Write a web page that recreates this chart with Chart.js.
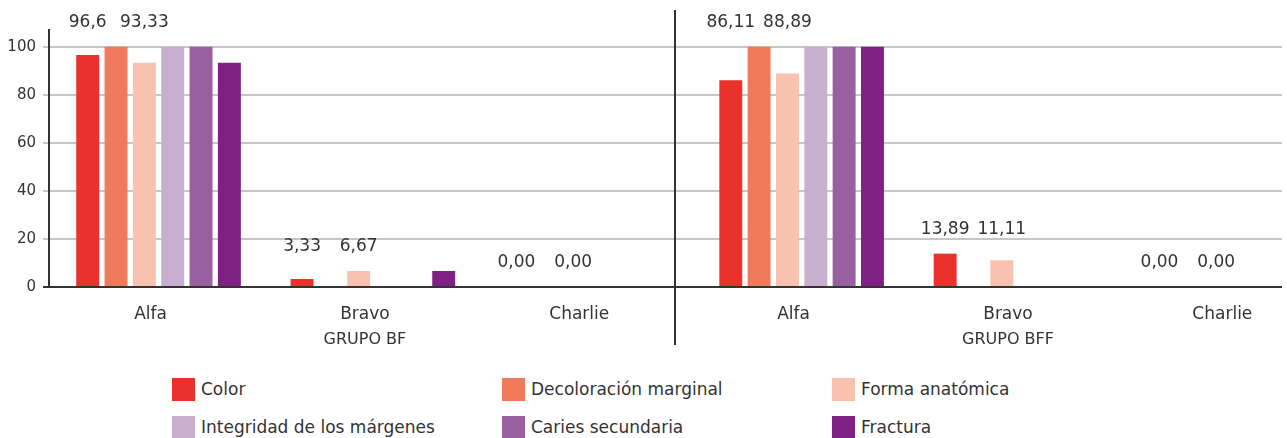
<!DOCTYPE html>
<html lang="es">
<head>
    <meta charset="UTF-8">
    <title>Grupo BF / Grupo BFF</title>
    <style>
        body {
            margin: 0;
            padding: 0;
            background: #ffffff;
            font-family: 'DejaVu Sans', sans-serif;
        }

        .wrap {
            position: relative;
            width: 1287px;
            height: 438px;
            overflow: hidden;
        }

        #chart-box {
            position: absolute;
            left: 0;
            top: 0;
            width: 1287px;
            height: 360px;
        }

        /* legend: 3 columns x 2 rows */
        #legend {
            position: absolute;
            left: 172px;
            top: 378px;
            display: grid;
            grid-template-columns: 330px 330px 330px;
            grid-auto-rows: 38px;
        }

        .item {
            display: flex;
            align-items: flex-start;
            font-size: 17px;
            color: #333;
        }

        .item span.box {
            width: 23px;
            height: 23px;
            margin-right: 6px;
            flex: none;
        }

        .item span.txt {
            line-height: 23px;
        }
    </style>
    <script src="https://cdn.jsdelivr.net/npm/chart.js"></script>
</head>
<body>
    <div class="wrap">
        <div id="chart-box"><canvas id="chart"></canvas></div>
        <div id="legend"></div>
    </div>

    <script>
        // categories, left panel (GRUPO BF) then right panel (GRUPO BFF)
        const categories = ['Alfa', 'Bravo', 'Charlie', 'Alfa', 'Bravo', 'Charlie'];
        const groups = ['GRUPO BF', 'GRUPO BFF'];
        const yTicks = [0, 20, 40, 60, 80, 100];

        const seriesNames = ['Color', 'Decoloración marginal', 'Forma anatómica',
            'Integridad de los márgenes', 'Caries secundaria', 'Fractura'];
        const seriesColors = ['#E9322C', '#EF7A5C', '#F8C2AE', '#C8AFCF', '#98609F', '#7E2182'];

        const color      = [96.6, 3.33, 0, 86.11, 13.89, 0];
        const decoloracion = [100, 0, 0, 100, 0, 0];
        const forma      = [93.33, 6.67, 0, 88.89, 11.11, 0];
        const integridad = [100, 0, 0, 100, 0, 0];
        const caries     = [100, 0, 0, 100, 0, 0];
        const fractura   = [93.33, 6.67, 0, 100, 0, 0];

        // value labels printed in the picture (only Color and Forma anatómica)
        const colorLabels = ['96,6', '3,33', '0,00', '86,11', '13,89', '0,00'];
        const formaLabels = ['93,33', '6,67', '0,00', '88,89', '11,11', '0,00'];

        const seriesValues = [color, decoloracion, forma, integridad, caries, fractura];
        const seriesLabels = [colorLabels, null, formaLabels, null, null, null];

        const textColor = '#333';
        const font = "'DejaVu Sans', sans-serif";

        // value labels above the Color and Forma bars
        const valueLabels = {
            id: 'valueLabels',
            afterDatasetsDraw(chart) {
                const ctx = chart.ctx;
                const y = chart.scales.y;
                ctx.save();
                ctx.font = '17px ' + font;
                ctx.fillStyle = textColor;
                ctx.textAlign = 'center';
                ctx.textBaseline = 'middle';
                seriesLabels.forEach((labels, d) => {
                    if (!labels) return;
                    const meta = chart.getDatasetMeta(d);
                    meta.data.forEach((bar, i) => {
                        const top = Math.max(...seriesValues.map(s => s[i]));
                        ctx.fillText(labels[i], bar.x, y.getPixelForValue(top) - 24);
                    });
                });
                ctx.restore();
            }
        };

        // panel divider and group titles
        const panels = {
            id: 'panels',
            afterDraw(chart) {
                const ctx = chart.ctx;
                const x = chart.scales.x;
                ctx.save();
                ctx.strokeStyle = textColor;
                ctx.lineWidth = 2;
                const dx = Math.round(x.getPixelForValue(2.41));
                ctx.beginPath();
                ctx.moveTo(dx, 10);
                ctx.lineTo(dx, 345);
                ctx.stroke();

                ctx.font = '16px ' + font;
                ctx.fillStyle = textColor;
                ctx.textAlign = 'center';
                ctx.textBaseline = 'middle';
                ctx.fillText(groups[0], x.getPixelForValue(1) - 8, 340);
                ctx.fillText(groups[1], x.getPixelForValue(4) - 8, 340);
                ctx.restore();
            }
        };

        new Chart(document.getElementById('chart'), {
            type: 'bar',
            data: {
                datasets: seriesNames.map((name, d) => ({
                    label: name,
                    data: seriesValues[d].map((v, i) => ({ x: i, y: v })),
                    backgroundColor: seriesColors[d],
                    borderWidth: 0,
                    categoryPercentage: 0.793,
                    barPercentage: 0.81
                }))
            },
            options: {
                responsive: true,
                maintainAspectRatio: false,
                animation: false,
                layout: { padding: { top: 30, right: 5, left: 0, bottom: 0 } },
                plugins: {
                    legend: { display: false },
                    tooltip: { enabled: false }
                },
                scales: {
                    x: {
                        type: 'linear',
                        offset: false,
                        min: -0.511,
                        max: 5.241,
                        afterBuildTicks: (s) => { s.ticks = categories.map((c, i) => ({ value: i })); },
                        afterFit: (s) => { s.height = 73; },
                        grid: { display: false, drawTicks: false, offset: false },
                        border: { display: false },
                        ticks: {
                            autoSkip: false,
                            maxRotation: 0,
                            padding: 17,
                            labelOffset: -8,
                            color: textColor,
                            font: { family: font, size: 17 },
                            callback: (v) => categories[v]
                        }
                    },
                    y: {
                        min: 0,
                        max: 107,
                        afterBuildTicks: (s) => { s.ticks = yTicks.map(v => ({ value: v })); },
                        afterFit: (s) => { s.width = 49; },
                        grid: {
                            color: (c) => c.tick && c.tick.value === 0 ? textColor : '#c6c6c6',
                            lineWidth: 2,
                            tickLength: 6
                        },
                        border: { display: true, color: textColor, width: 2 },
                        ticks: {
                            padding: 7,
                            color: textColor,
                            font: { family: font, size: 15 }
                        }
                    }
                }
            },
            plugins: [valueLabels, panels]
        });

        // html legend
        const legend = document.getElementById('legend');
        seriesNames.forEach((name, d) => {
            const item = document.createElement('div');
            item.className = 'item';
            item.innerHTML = '<span class="box" style="background:' + seriesColors[d] + '"></span>' +
                '<span class="txt">' + name + '</span>';
            legend.appendChild(item);
        });
    </script>
</body>
</html>
